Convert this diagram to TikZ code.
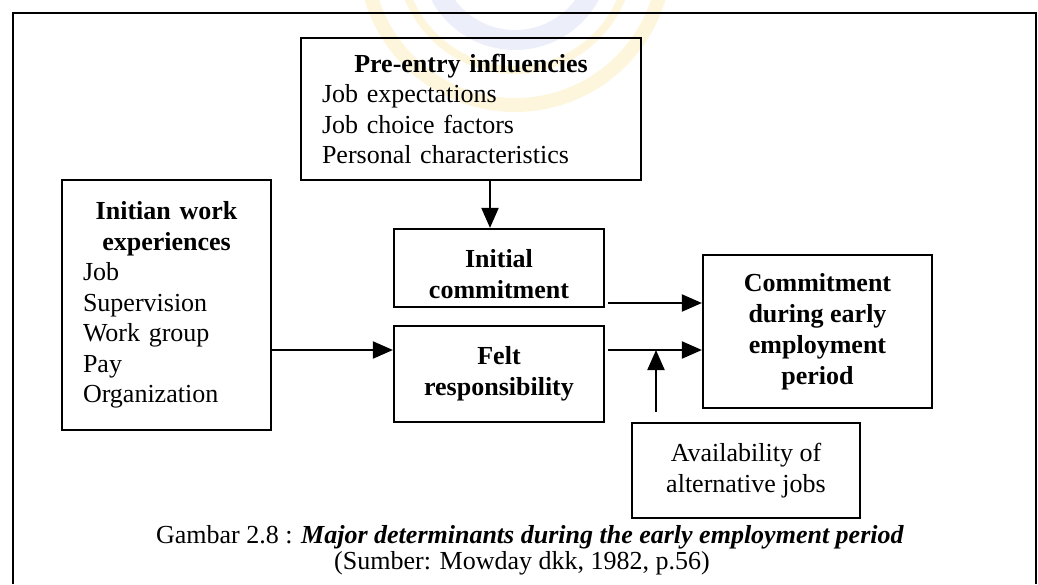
\documentclass[tikz,border=0pt]{standalone}
\usepackage{fontspec}
\setmainfont{Liberation Serif}
\usetikzlibrary{arrows.meta}
\newcommand{\ctrline}[1]{\makebox[\hsize][c]{#1}}
\definecolor{sealgold}{RGB}{253,246,220}
\definecolor{sealblue}{RGB}{236,239,250}
\begin{document}
\begin{tikzpicture}[x=1pt,y=-1pt,
  box/.style={draw, line width=2.2pt, inner ysep=0pt,
    font=\fontsize{26}{30.5}\selectfont},
  listbox/.style={box, align=left, inner xsep=21pt, text width=#1},
  boldbox/.style={box, align=center, inner xsep=4pt,
    font=\fontsize{26}{31}\selectfont\bfseries},
  plainbox/.style={box, align=center, inner xsep=4pt,
    font=\fontsize{26}{31}\selectfont},
  arr/.style={line width=2pt, -{Triangle[length=20pt,width=17pt]}},
  frameline/.style={line width=2.5pt},
  seal/.style={line width=#1}
]
\useasboundingbox (0,0) rectangle (1038,584);

% faint seal printed behind the figure
\draw[seal=14pt, sealgold] (515,-45) circle[radius=150];
\draw[seal=8pt, sealgold] (515,-45) circle[radius=115];
\draw[seal=20pt, sealblue] (515,-45) circle[radius=85];

% outer frame, open at the bottom
\draw[frameline] (13,584) -- (13,13) -- (1036,13) -- (1036,584);

% boxes
\node[listbox=298pt, minimum height=142pt] (pre) at (471,109)
  {\ctrline{\bfseries Pre-entry influencies}\\
   Job expectations\\ Job choice factors\\ Personal characteristics};

\node[listbox=167pt, minimum height=250pt] (work) at (166.5,305)
  {\ctrline{\bfseries Initian work}\\ \ctrline{\bfseries experiences}\\
   Job\\ Supervision\\ Work group\\ Pay\\ Organization};

\node[boldbox, minimum width=210pt, minimum height=78pt] (init) at (499,268)
  {\rule{0pt}{30pt}Initial\\ commitment};

\node[boldbox, minimum width=210pt, minimum height=96pt] (felt) at (499,374)
  {Felt\\ responsibility};

\node[boldbox, minimum width=229pt, minimum height=153pt] (comm) at (817.5,331.5)
  {Commitment\\ during early\\ employment\\ period};

\node[plainbox, minimum width=228pt, minimum height=95pt] (avail) at (746,470.5)
  {Availability of\\ alternative jobs};

% connector guide positions
\coordinate (xa) at (490,0);
\coordinate (xb) at (656,0);
\coordinate (ya) at (0,303);
\coordinate (yb) at (0,350);
\coordinate (join) at (656,350);

% connectors
\draw[arr] (pre.south -| xa) -- (init.north -| xa);
\draw[arr] (work.east |- yb) -- (felt.west |- yb);
\draw[arr, shorten <=3pt] (init.east |- ya) -- (comm.west |- ya);
\draw[arr, shorten <=3pt] (felt.east |- yb) -- (comm.west |- yb);
\draw[arr, shorten <=10pt] (avail.north -| xb) -- (join);

% caption
\node[font=\fontsize{26}{30}\selectfont] (cap) at (530,537)
  {Gambar 2.8 : \textbf{\textit{Major determinants during the early employment period}}};
\node[font=\fontsize{26}{30}\selectfont] (src) at (522,563)
  {(Sumber: Mowday dkk, 1982, p.56)};
\end{tikzpicture}
\end{document}
